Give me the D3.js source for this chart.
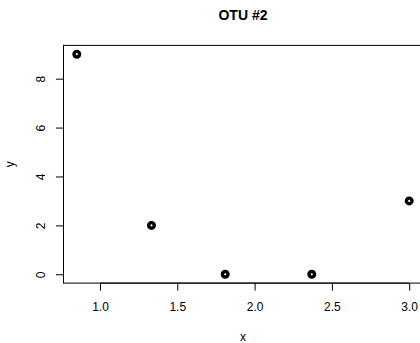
<!DOCTYPE html>
<html>
<head>
<meta charset="utf-8">
<script src="https://cdn.jsdelivr.net/npm/d3@7"></script>
<style>
  html, body { margin: 0; padding: 0; background: #fff; }
  svg { display: block; font-family: "Liberation Sans", Arial, Helvetica, sans-serif; }
</style>
</head>
<body>
<svg id="chart" width="420" height="343"></svg>
<script>
// OTU #2 abundance by x
const xValues = [0.85, 1.333, 1.81, 2.37, 3.0];
const yValues = [9, 2, 0, 0, 3];
const xTicks = [1.0, 1.5, 2.0, 2.5, 3.0];
const yTicks = [0, 2, 4, 6, 8];
const title = "OTU #2";
const xLabel = "x";
const yLabel = "y";

const plot = { left: 63.5, right: 422.5, top: 45.4, bottom: 283.1 };
const fontAxis = 12;

// R-style 4% padding on both axes
function padded(vals) {
  const [lo, hi] = d3.extent(vals);
  const p = (hi - lo) * 0.04;
  return [lo - p, hi + p];
}

const x = d3.scaleLinear().domain(padded(xValues)).range([plot.left, plot.right]);
const y = d3.scaleLinear().domain(padded(yValues)).range([plot.bottom, plot.top]);

const svg = d3.select("#chart");

// plot box
svg.append("rect")
  .attr("x", plot.left).attr("y", plot.top)
  .attr("width", plot.right - plot.left).attr("height", plot.bottom - plot.top)
  .attr("fill", "none").attr("stroke", "#000").attr("stroke-width", 1);

// x axis
const xAxis = d3.axisBottom(x).tickValues(xTicks).tickFormat(d3.format(".1f"))
  .tickSizeInner(7.5).tickSizeOuter(0).tickPadding(11.5);
const gx = svg.append("g").attr("transform", `translate(0,${plot.bottom})`).call(xAxis);
gx.select(".domain")
  .attr("d", `M${x(xTicks[0])},0H${x(xTicks[xTicks.length - 1])}`);
gx.selectAll("text").attr("font-size", fontAxis).attr("fill", "#000")
  .attr("font-family", "Liberation Sans, Arial, sans-serif");
gx.selectAll("line, path").attr("stroke", "#000");

// y axis, labels parallel to the axis
const yAxis = d3.axisLeft(y).tickValues(yTicks).tickFormat(d3.format("d"))
  .tickSizeInner(7.5).tickSizeOuter(0).tickPadding(0);
const gy = svg.append("g").attr("transform", `translate(${plot.left},0)`).call(yAxis);
gy.select(".domain")
  .attr("d", `M0,${y(yTicks[0])}V${y(yTicks[yTicks.length - 1])}`);
gy.selectAll("line, path").attr("stroke", "#000");
gy.selectAll("text")
  .attr("x", null).attr("dy", null)
  .attr("text-anchor", "middle")
  .attr("font-size", fontAxis).attr("fill", "#000")
  .attr("font-family", "Liberation Sans, Arial, sans-serif")
  .attr("transform", "translate(-18.5,0) rotate(-90)");

// points: open circles with heavy outline
svg.append("g").selectAll("circle")
  .data(xValues.map((v, i) => [v, yValues[i]]))
  .join("circle")
  .attr("cx", d => x(d[0]))
  .attr("cy", d => y(d[1]))
  .attr("r", 2.8)
  .attr("fill", "none")
  .attr("stroke", "#000")
  .attr("stroke-width", 3.4);

// title and axis labels
svg.append("text")
  .attr("x", (plot.left + plot.right) / 2).attr("y", 19.5)
  .attr("text-anchor", "middle")
  .attr("font-size", 14).attr("font-weight", "bold")
  .text(title);

svg.append("text")
  .attr("x", (plot.left + plot.right) / 2).attr("y", 341)
  .attr("text-anchor", "middle")
  .attr("font-size", fontAxis)
  .text(xLabel);

svg.append("text")
  .attr("transform", `translate(13.5,${(plot.top + plot.bottom) / 2}) rotate(-90)`)
  .attr("text-anchor", "middle")
  .attr("font-size", fontAxis)
  .text(yLabel);
</script>
</body>
</html>
